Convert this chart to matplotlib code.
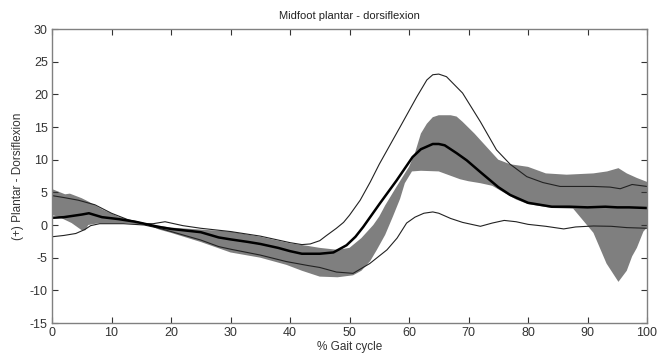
import matplotlib
matplotlib.use('Agg')
import matplotlib.pyplot as plt

# Thick mean curve
mean_x = [0, 2, 3.5, 5, 6.2, 8.4, 11.2, 14, 16, 18, 20, 22, 25, 28, 30, 33, 35, 38, 40, 42,
          45, 47.3, 49.5, 51, 52.3, 55.1, 57.9, 60.6, 62, 64, 65, 66, 68, 69.7, 72, 75, 77,
          80, 84, 87, 90, 93, 95, 97, 100]
mean_y = [1.1, 1.2, 1.4, 1.6, 1.8, 1.2, 0.9, 0.5, 0.1, -0.3, -0.6, -0.8, -1.1, -1.9, -2.2,
          -2.6, -2.9, -3.5, -4.0, -4.4, -4.4, -4.2, -3.1, -1.8, -0.3, 3.3, 6.8, 10.4, 11.6,
          12.4, 12.4, 12.2, 11.0, 9.9, 8.1, 5.8, 4.6, 3.4, 2.8, 2.8, 2.7, 2.8, 2.7, 2.7, 2.6]

# Thin upper curve
upper_x = [0, 2, 4.4, 7.2, 10, 12.8, 15.6, 17, 19, 20, 22, 25, 28, 30, 35, 40, 42, 43.4, 45,
           46, 47.8, 49, 50, 51.8, 53.5, 55, 58.5, 61.3, 63, 64, 65, 66.3, 69, 72, 74.7, 77,
           79.8, 82.5, 85.4, 88, 91, 93.8, 95.5, 97.5, 100]
upper_y = [4.5, 4.2, 3.8, 3.1, 1.8, 0.8, 0.2, 0.2, 0.5, 0.3, -0.1, -0.5, -0.8, -1.0, -1.7,
           -2.7, -3.0, -2.9, -2.4, -1.7, -0.5, 0.4, 1.5, 3.8, 6.6, 9.3, 15.0, 19.6, 22.2,
           23.0, 23.1, 22.7, 20.2, 15.8, 11.5, 9.3, 7.4, 6.5, 5.9, 5.9, 5.9, 5.8, 5.55, 6.2,
           5.9]

# Thin lower curve
lower_x = [0, 2, 4, 5.5, 6.5, 8, 12, 15.5, 18, 20, 25, 28, 30, 35, 39.4, 43, 45, 47.8, 50.6,
           53.4, 56.3, 58, 59.6, 61, 62.5, 64, 65, 67, 69, 72, 74, 76, 78, 80, 83, 86, 88,
           91, 94, 96.6, 100]
lower_y = [-1.8, -1.6, -1.3, -0.7, -0.1, 0.2, 0.2, 0.0, -0.5, -1.0, -2.3, -3.3, -3.7, -4.6,
           -5.6, -6.2, -6.5, -7.2, -7.4, -5.9, -3.8, -2.0, 0.3, 1.2, 1.8, 2.0, 1.8, 1.0, 0.4,
           -0.2, 0.3, 0.7, 0.5, 0.1, -0.2, -0.6, -0.3, -0.15, -0.2, -0.4, -0.5]

# Shaded band (upper and lower edges)
band_top_x = [0, 2.2, 3.0, 5, 6.1, 8.4, 11.1, 14, 16.2, 18, 20, 25, 30, 35, 40, 43, 45, 48,
              50, 52, 54, 55, 56, 58, 60, 61, 62, 63, 64, 65, 67, 68, 69, 71, 73, 75, 77, 80,
              83, 86.5, 91, 93.3, 95.2, 96.6, 98.3, 100]
band_top_y = [5.5, 4.7, 4.8, 4.1, 3.6, 2.4, 1.3, 0.5, 0.0, -0.1, -0.4, -0.7, -1.0, -1.8,
              -2.8, -3.2, -3.5, -3.8, -3.5, -2.0, 0.0, 1.3, 3.0, 6.0, 8.9, 11.0, 14.0, 15.5,
              16.5, 16.8, 16.8, 16.6, 15.8, 14.0, 12.0, 10.0, 9.3, 8.9, 7.9, 7.7, 7.9, 8.2,
              8.7, 7.9, 7.2, 6.6]
band_bot_x = [0, 1, 3.3, 5, 5.6, 6.1, 8, 12, 16.2, 18, 20, 25, 30, 35, 39.4, 42, 45, 48,
              50.6, 52, 53.5, 54.6, 56, 57.3, 58.5, 59.3, 60.5, 62, 65, 68.6, 70, 72, 74,
              75.5, 78, 80, 84, 87.6, 89.9, 91, 93.2, 95.2, 96.6, 97.5, 98.3, 99.4, 100]
band_bot_y = [1.5, 1.3, 0.3, -0.8, -0.8, 0.0, 0.3, 0.3, 0.0, -0.7, -1.2, -2.6, -4.2, -5.0,
              -6.1, -7.0, -7.9, -8.0, -7.7, -7.0, -5.5, -3.8, -1.5, 1.3, 4.0, 6.4, 8.2, 8.3,
              8.2, 7.0, 6.7, 6.4, 6.0, 5.2, 3.9, 3.2, 2.6, 2.5, 0.0, -1.2, -5.9, -8.7, -7.0,
              -4.8, -3.5, -1.0, -0.4]

x_ticks = list(range(0, 101, 10))
y_ticks = list(range(-15, 31, 5))

plt.rcParams['font.family'] = 'Liberation Sans'
plt.rcParams['axes.unicode_minus'] = False

fig = plt.figure(figsize=(6.6, 3.62), dpi=100)
ax = fig.add_axes([52 / 660, 1 - 323 / 362, 595 / 660, 294 / 362])

ax.fill(band_top_x + band_bot_x[::-1], band_top_y + band_bot_y[::-1],
        color='#7f7f7f', linewidth=0)
ax.plot(upper_x, upper_y, color='#222222', linewidth=0.8)
ax.plot(lower_x, lower_y, color='#222222', linewidth=0.8)
ax.plot(mean_x, mean_y, color='black', linewidth=1.8)

ax.set_xlim(0, 100)
ax.set_ylim(-15, 30)
ax.set_xticks(x_ticks)
ax.set_yticks(y_ticks)
ax.tick_params(direction='in', length=4, width=0.8, top=True, right=True,
               labelsize=9, colors='#333333', pad=3)
for s in ax.spines.values():
    s.set_color('#808080')
    s.set_linewidth(1.0)

ax.set_title('Midfoot plantar - dorsiflexion', fontsize=8, color='#222222', pad=7)
ax.set_xlabel('% Gait cycle', fontsize=8.5, color='#333333', labelpad=1)
ax.set_ylabel('(+) Plantar - Dorsiflexion', fontsize=8.5, color='#333333', labelpad=4)

fig.savefig('out.png', dpi=100)
